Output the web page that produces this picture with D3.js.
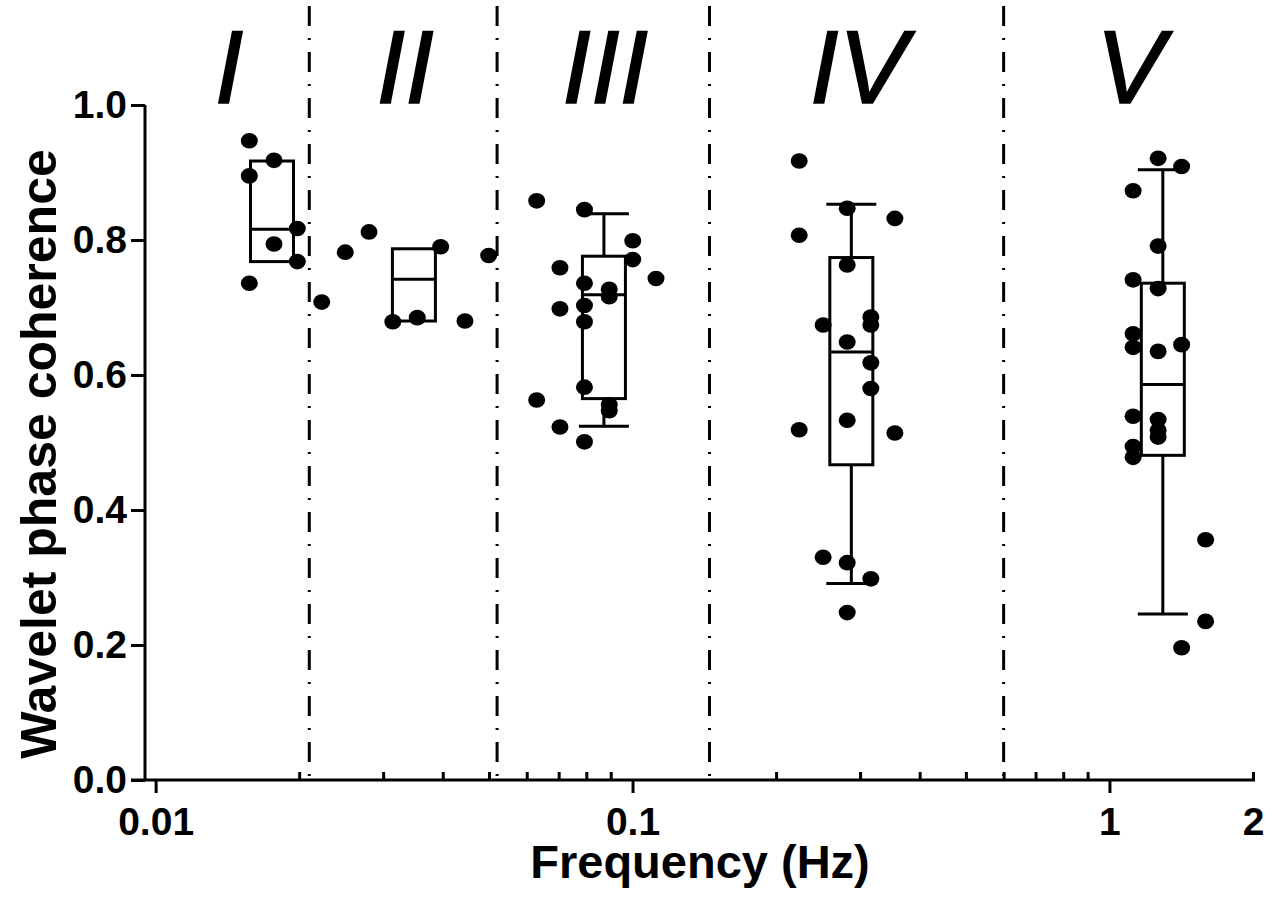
<!DOCTYPE html>
<html>
<head>
<meta charset="utf-8">
<script src="https://cdn.jsdelivr.net/npm/d3@7"></script>
<style>
  body { margin: 0; background: #fff; }
  text { font-family: 'Liberation Sans', Arial, sans-serif; }
</style>
</head>
<body>
<div id="chart"></div>
<script>
// frequency bands
var bandNames = ['I', 'II', 'III', 'IV', 'V']
var bandEdges = [0.0095, 0.021, 0.052, 0.145, 0.6, 2]

// box plot per band (I and II have no whiskers)
var boxFreq = [0.01754, 0.0348, 0.0871, 0.2876, 1.294]
var boxQ1 = [0.768, 0.68, 0.565, 0.467, 0.481]
var boxMedian = [0.816, 0.742, 0.719, 0.634, 0.586]
var boxQ3 = [0.917, 0.787, 0.776, 0.774, 0.736]
var whiskerLow = [null, null, 0.524, 0.291, 0.246]
var whiskerHigh = [null, null, 0.839, 0.853, 0.904]

// individual subjects
var pointFreq = [
  0.01572, 0.01771, 0.01572, 0.01982, 0.01771, 0.01982, 0.01572,
  0.02802, 0.02498, 0.0396, 0.04993, 0.0223, 0.03143, 0.03537, 0.04453,
  0.06295, 0.07929, 0.1001, 0.1001, 0.07044, 0.112, 0.07929, 0.08937, 0.08937,
  0.07929, 0.07044, 0.07929, 0.07929, 0.06295, 0.08937, 0.08937, 0.07044, 0.07929,
  0.2236, 0.2819, 0.3549, 0.2236, 0.2819, 0.251, 0.316, 0.316, 0.2819,
  0.316, 0.316, 0.2819, 0.2236, 0.3549, 0.251, 0.2819, 0.316, 0.2819,
  1.265, 1.417, 1.121, 1.265, 1.121, 1.265, 1.121, 1.121, 1.417, 1.265,
  1.121, 1.265, 1.265, 1.265, 1.121, 1.121, 1.591, 1.591, 1.417
]
var pointValue = [
  0.947, 0.918, 0.895, 0.817, 0.794, 0.768, 0.736,
  0.812, 0.782, 0.79, 0.777, 0.708, 0.679, 0.685, 0.68,
  0.858, 0.845, 0.799, 0.771, 0.759, 0.743, 0.736, 0.727, 0.716,
  0.703, 0.698, 0.679, 0.582, 0.563, 0.556, 0.547, 0.523, 0.501,
  0.917, 0.847, 0.832, 0.807, 0.763, 0.674, 0.686, 0.674, 0.649,
  0.618, 0.58, 0.533, 0.519, 0.514, 0.33, 0.322, 0.298, 0.248,
  0.921, 0.909, 0.873, 0.791, 0.741, 0.728, 0.661, 0.641, 0.645, 0.635,
  0.539, 0.534, 0.518, 0.508, 0.494, 0.478, 0.356, 0.235, 0.196
]

var yTicks = [0, 0.2, 0.4, 0.6, 0.8, 1.0]
var xMajor = [0.01, 0.1, 1, 2]
var xMinor = [0.02, 0.03, 0.04, 0.05, 0.06, 0.07, 0.08, 0.09,
  0.2, 0.3, 0.4, 0.5, 0.6, 0.7, 0.8, 0.9, 2]

var width = 1278
var height = 916
var plotLeft = 145, plotRight = 1253, plotTop = 105, plotBottom = 780

var svg = d3
  .select('#chart')
  .append('svg')
  .attr('width', width)
  .attr('height', height)

var x = d3.scaleLog().domain([bandEdges[0], 2]).range([plotLeft, plotRight])
var y = d3.scaleLinear().domain([0, 1]).range([plotBottom, plotTop])

var lw = 3

// band dividers
svg
  .append('g')
  .selectAll('line')
  .data(bandEdges.slice(1, -1))
  .join('line')
  .attr('x1', (d) => x(d))
  .attr('x2', (d) => x(d))
  .attr('y1', 6)
  .attr('y2', plotBottom)
  .attr('stroke', '#000')
  .attr('stroke-width', lw)
  .attr('stroke-dasharray', '20,12,2,12')

// band labels
svg
  .append('g')
  .selectAll('text')
  .data(bandNames)
  .join('text')
  .attr('x', (d, i) => x(Math.sqrt(bandEdges[i] * bandEdges[i + 1])) + 2)
  .attr('y', 103)
  .attr('text-anchor', 'middle')
  .attr('font-size', 103)
  .attr('font-style', 'italic')
  .attr('stroke', '#000')
  .attr('stroke-width', 1.5)
  .text((d) => d)

// y axis
var yAxis = svg
  .append('g')
  .attr('transform', 'translate(' + plotLeft + ',0)')
  .call(
    d3.axisLeft(y).tickValues(yTicks).tickFormat(d3.format('.1f')).tickSize(14).tickPadding(4)
  )
yAxis.select('.domain').attr('d', 'M0,' + plotTop + 'V' + plotBottom)

// x axis, major ticks down, minor ticks up
var xAxis = svg
  .append('g')
  .attr('transform', 'translate(0,' + plotBottom + ')')
  .call(
    d3.axisBottom(x).tickValues(xMajor).tickFormat((d) => String(d)).tickSize(13).tickPadding(14)
  )
xAxis.select('.domain').attr('d', 'M' + (plotLeft - 14) + ',0H' + (plotRight + 2))
xAxis
  .selectAll('.tick')
  .filter((d) => d === 2)
  .select('line')
  .attr('y2', 0)

svg
  .append('g')
  .attr('transform', 'translate(0,' + plotBottom + ')')
  .call(d3.axisBottom(x).tickValues(xMinor).tickFormat('').tickSize(-8))
  .select('.domain')
  .remove()

svg.selectAll('.tick line').attr('stroke-width', lw)
svg.selectAll('.domain').attr('stroke-width', lw)
svg
  .selectAll('.tick text')
  .attr('font-size', 39)
  .attr('font-weight', 'bold')
  .attr('fill', '#000')
  .attr('font-family', "'Liberation Sans', Arial, sans-serif")

// axis titles
svg
  .append('text')
  .attr('x', 700)
  .attr('y', 878)
  .attr('text-anchor', 'middle')
  .attr('font-size', 47)
  .attr('font-weight', 'bold')
  .text('Frequency (Hz)')

svg
  .append('text')
  .attr('transform', 'translate(56,454) rotate(-90)')
  .attr('text-anchor', 'middle')
  .attr('font-size', 50)
  .attr('font-weight', 'bold')
  .text('Wavelet phase coherence')

// boxes
var boxHalf = 21.5
var capHalf = 25
var boxes = svg
  .append('g')
  .attr('fill', 'none')
  .attr('stroke', '#000')
  .attr('stroke-width', lw)
  .selectAll('g')
  .data(boxFreq)
  .join('g')

boxes
  .append('rect')
  .attr('x', (d) => x(d) - boxHalf)
  .attr('width', boxHalf * 2)
  .attr('y', (d, i) => y(boxQ3[i]))
  .attr('height', (d, i) => y(boxQ1[i]) - y(boxQ3[i]))

boxes
  .append('line')
  .attr('x1', (d) => x(d) - boxHalf)
  .attr('x2', (d) => x(d) + boxHalf)
  .attr('y1', (d, i) => y(boxMedian[i]))
  .attr('y2', (d, i) => y(boxMedian[i]))

var whiskers = boxes.filter((d, i) => whiskerLow[i] != null)
whiskers
  .append('path')
  .attr('d', function (d) {
    var i = boxFreq.indexOf(d)
    var cx = x(d)
    return (
      'M' + cx + ',' + y(boxQ3[i]) + 'V' + y(whiskerHigh[i]) +
      'M' + (cx - capHalf) + ',' + y(whiskerHigh[i]) + 'H' + (cx + capHalf) +
      'M' + cx + ',' + y(boxQ1[i]) + 'V' + y(whiskerLow[i]) +
      'M' + (cx - capHalf) + ',' + y(whiskerLow[i]) + 'H' + (cx + capHalf)
    )
  })

// points
svg
  .append('g')
  .selectAll('ellipse')
  .data(pointValue)
  .join('ellipse')
  .attr('cx', (d, i) => x(pointFreq[i]))
  .attr('cy', (d) => y(d))
  .attr('rx', 8.5)
  .attr('ry', 7.8)
  .attr('fill', '#000')
</script>
</body>
</html>
